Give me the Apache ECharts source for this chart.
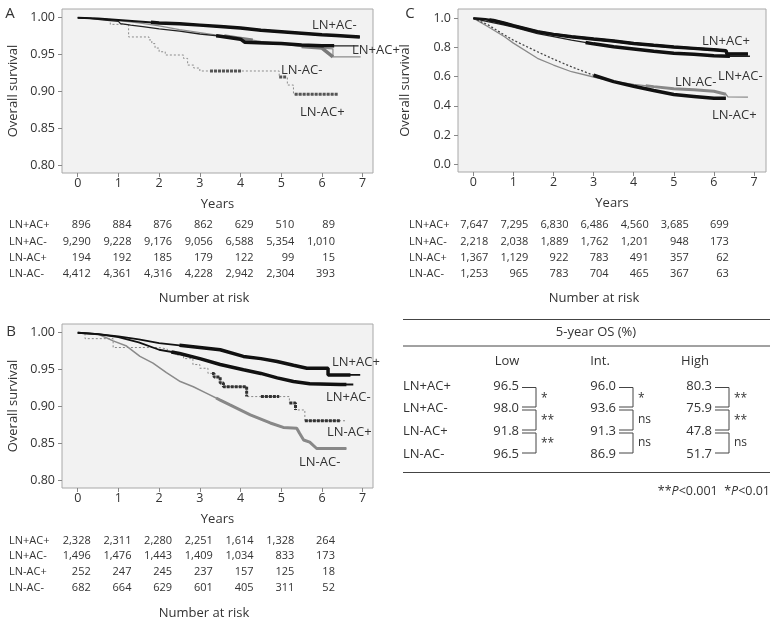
<!DOCTYPE html>
<html><head><meta charset="utf-8">
<script src="https://cdn.jsdelivr.net/npm/echarts@6/dist/echarts.min.js"></script>
<style>html,body{margin:0;padding:0;background:#fff}#c{width:778px;height:624px}</style>
</head><body><div id="c"></div>
<script>
// ---------------- DATA ----------------
const groups = ['LN+AC+', 'LN+AC-', 'LN-AC+', 'LN-AC-'];
const riskYears = [0, 1, 2, 3, 4, 5, 6];
const xTicks = [0, 1, 2, 3, 4, 5, 6, 7];
const yTicksAB = [0.80, 0.85, 0.90, 0.95, 1.00];
const yTicksC = [0.0, 0.2, 0.4, 0.6, 0.8, 1.0];

// Panel A curves [years, survival]
const aLNpACp = [[0,1],[0.3,0.999],[0.6,0.997],[1,0.995],[1.05,0.992],[1.3,0.99],[1.6,0.988],[2,0.985],[2.5,0.982],[3,0.978],[3.5,0.975],[4,0.971],[4.1,0.967],[4.6,0.966],[5,0.965],[5.5,0.963],[6,0.962],[6.3,0.962],[6.9,0.962]];
const aLNpACm = [[0,1],[0.5,0.999],[1,0.997],[1.5,0.995],[2,0.993],[2.5,0.992],[3,0.99],[3.5,0.988],[4,0.986],[4.5,0.983],[5,0.981],[5.5,0.979],[6,0.977],[6.35,0.976],[6.35,0.974],[6.93,0.974]];
const aLNmACp = [[0,1],[0.15,0.998],[0.8,0.991],[1.25,0.974],[1.75,0.97],[1.82,0.965],[1.9,0.959],[2.0,0.954],[2.15,0.9496],[2.6,0.945],[2.7,0.936],[2.85,0.932],[3.0,0.928],[4.95,0.92],[5.15,0.909],[5.3,0.8965],[6.4,0.8965]];
const aLNmACm = [[0,1],[0.5,0.998],[1,0.996],[1.5,0.993],[2,0.989],[2.5,0.984],[3,0.98],[3.5,0.976],[4,0.972],[4.5,0.968],[5,0.965],[5.5,0.961],[6,0.959],[6.27,0.958],[6.27,0.947],[6.95,0.947]];

// Panel B curves
const bLNpACp = [[0,1],[0.5,0.998],[1,0.995],[1.5,0.991],[2,0.986],[2.5,0.983],[3,0.98],[3.5,0.977],[4.07,0.968],[4.5,0.965],[4.9,0.961],[5.3,0.956],[5.63,0.952],[6.15,0.952],[6.15,0.943],[6.94,0.943]];
const bLNpACm = [[0,1],[0.5,0.998],[1,0.994],[1.5,0.987],[2,0.977],[2.5,0.972],[3,0.965],[3.5,0.957],[4.07,0.95],[4.5,0.945],[4.9,0.939],[5.3,0.934],[5.7,0.931],[6.45,0.93],[6.77,0.93]];
const bLNmACp = [[0,1],[0.18,0.992],[0.87,0.98],[2.0,0.978],[2.2,0.975],[2.4,0.97],[2.6,0.965],[2.83,0.957],[3.0,0.952],[3.2,0.945],[3.35,0.94],[3.5,0.932],[3.58,0.927],[4.15,0.9137],[5.2,0.905],[5.35,0.8956],[5.58,0.881],[6.6,0.881]];
const bLNmACm = [[0,1],[0.3,0.999],[0.55,0.997],[0.87,0.989],[1.2,0.982],[1.53,0.968],[1.85,0.959],[2.18,0.946],[2.52,0.934],[2.84,0.927],[3.17,0.918],[3.5,0.909],[3.74,0.9025],[4.24,0.889],[4.73,0.878],[5.05,0.872],[5.38,0.871],[5.45,0.864],[5.55,0.855],[5.7,0.852],[5.87,0.8435],[6.6,0.8435]];

// Panel C curves
const cLNpACp = [[0,1],[0.3,0.993],[0.5,0.985],[0.78,0.966],[1,0.95],[1.6,0.908],[2,0.89],[2.45,0.874],[3,0.858],[3.5,0.845],[4,0.828],[4.5,0.815],[5,0.803],[5.5,0.794],[6,0.784],[6.3,0.778],[6.33,0.755],[6.85,0.755]];
const cLNpACm = [[0,1],[0.3,0.98],[0.78,0.954],[1,0.94],[1.6,0.895],[2,0.875],[2.45,0.851],[3,0.825],[3.5,0.805],[4,0.79],[4.5,0.775],[5,0.761],[5.5,0.753],[6,0.743],[6.4,0.74],[6.9,0.74]];
const cLNmACp = [[0,1],[0.37,0.955],[0.78,0.885],[1,0.85],[1.6,0.771],[2,0.72],[2.45,0.668],[3,0.61],[3.5,0.566],[4,0.535],[4.5,0.505],[5,0.478],[5.5,0.465],[6,0.452],[6.3,0.452]];
const cLNmACm = [[0,1],[0.37,0.942],[0.78,0.874],[1,0.83],[1.6,0.726],[2,0.68],[2.45,0.634],[3,0.598],[3.5,0.568],[4,0.548],[4.5,0.532],[5,0.517],[5.5,0.51],[6,0.5],[6.3,0.48],[6.35,0.462],[6.85,0.46]];

// Number at risk
const riskA_LNpACp = [896, 884, 876, 862, 629, 510, 89];
const riskA_LNpACm = [9290, 9228, 9176, 9056, 6588, 5354, 1010];
const riskA_LNmACp = [194, 192, 185, 179, 122, 99, 15];
const riskA_LNmACm = [4412, 4361, 4316, 4228, 2942, 2304, 393];
const riskB_LNpACp = [2328, 2311, 2280, 2251, 1614, 1328, 264];
const riskB_LNpACm = [1496, 1476, 1443, 1409, 1034, 833, 173];
const riskB_LNmACp = [252, 247, 245, 237, 157, 125, 18];
const riskB_LNmACm = [682, 664, 629, 601, 405, 311, 52];
const riskC_LNpACp = [7647, 7295, 6830, 6486, 4560, 3685, 699];
const riskC_LNpACm = [2218, 2038, 1889, 1762, 1201, 948, 173];
const riskC_LNmACp = [1367, 1129, 922, 783, 491, 357, 62];
const riskC_LNmACm = [1253, 965, 783, 704, 465, 367, 63];

// 5-year OS table
const osColumns = ['Low', 'Int.', 'High'];
const osLow = ['96.5', '98.0', '91.8', '96.5'];
const osInt = ['96.0', '93.6', '91.3', '86.9'];
const osHigh = ['80.3', '75.9', '47.8', '51.7'];
const sigLow = ['*', '**', '**'];
const sigInt = ['*', 'ns', 'ns'];
const sigHigh = ['**', '**', 'ns'];

// ---------------- STYLE / LAYOUT ----------------
const FONT = '"Open Sans", "Noto Sans", sans-serif';
const TXT = '#333';

const panels = [
  { grid: { left: 62, top: 9, width: 311, height: 164 }, x: [-0.386, 7.254], y: [0.7901, 1.0118], yTicks: yTicksAB, dig: 2, gapY: 42,
    curves: [aLNmACm, aLNmACp, aLNpACp, aLNpACm],
    styles: [
      { color: '#8c8c8c', width: 1.2, dense: [[3.6, 4.3], [5.5, 6.27]], dw: 3.5, dc: '#7a7a7a' },
      { color: '#8c8c8c', width: 1, type: [2, 2], step: true, dense: [[3.25, 4.02], [4.95, 5.12], [5.33, 6.4]], dw: 3, dc: '#555', dtype: [3, 1] },
      { color: '#222', width: 1.3, dense: [[3.4, 6.3]], dw: 3.5, dc: '#111' },
      { color: '#111', width: 2, dense: [[1.8, 6.93]], dw: 3.5, dc: '#111' }
    ],
    risk: [riskA_LNpACp, riskA_LNpACm, riskA_LNmACp, riskA_LNmACm],
    riskLabelX: 9, riskRows: [225, 241.7, 258.3, 274], riskOff: 13, nar: [204, 298],
    letter: ['A', 10, 14],
    labels: [['LN+AC-', 312, 25], ['LN+AC+', 352, 50], ['LN-AC-', 281, 70], ['LN-AC+', 300, 112]] },
  { grid: { left: 62, top: 324, width: 311, height: 164 }, x: [-0.386, 7.254], y: [0.7901, 1.0118], yTicks: yTicksAB, dig: 2, gapY: 42,
    curves: [bLNmACm, bLNmACp, bLNpACm, bLNpACp],
    styles: [
      { color: '#8a8a8a', width: 1.5, dense: [[3.4, 6.6]], dw: 3, dc: '#888' },
      { color: '#888', width: 1, type: [2, 2], step: true, dense: [[3.3, 4.15], [4.5, 4.95], [5.2, 5.35], [5.58, 6.45]], dw: 3, dc: '#333', dtype: [3, 1] },
      { color: '#111', width: 1.8, dense: [[2.3, 6.6]], dw: 3.5, dc: '#111' },
      { color: '#111', width: 1.8, dense: [[2.5, 6.7]], dw: 3.5, dc: '#111' }
    ],
    risk: [riskB_LNpACp, riskB_LNpACm, riskB_LNmACp, riskB_LNmACm],
    riskLabelX: 9, riskRows: [540.7, 556.3, 572, 587.7], riskOff: 13, nar: [204, 613],
    letter: ['B', 11, 332],
    labels: [['LN+AC+', 332, 362], ['LN+AC-', 326, 397], ['LN-AC+', 327, 432], ['LN-AC-', 299, 462]] },
  { grid: { left: 458, top: 9, width: 308, height: 163 }, x: [-0.3815, 7.30], y: [-0.0527, 1.0637], yTicks: yTicksC, dig: 1, gapY: 46,
    curves: [cLNmACm, cLNmACp, cLNpACm, cLNpACp],
    styles: [
      { color: '#8a8a8a', width: 1.3, dense: [[4.3, 6.3]], dw: 3, dc: '#888' },
      { color: '#444', width: 1.3, type: [2, 2], dense: [[3, 6.3]], dw: 3.5, dc: '#111' },
      { color: '#222', width: 1.3, dense: [[2.8, 6.4]], dw: 3.5, dc: '#111' },
      { color: '#111', width: 2.5, dense: [[0.4, 6.85]], dw: 3.5, dc: '#111' }
    ],
    risk: [riskC_LNpACp, riskC_LNpACm, riskC_LNmACp, riskC_LNmACm],
    riskLabelX: 409, riskRows: [225, 241.7, 258.3, 274], riskOff: 15, nar: [594, 298],
    letter: ['C', 410, 14],
    labels: [['LN+AC+', 702, 41], ['LN+AC-', 718, 76], ['LN-AC-', 675, 82], ['LN-AC+', 712, 115]] }
];

// value of a curve at time t (step or linear) -- used only to clip overlay segments
function valAt(d, t, step) {
  for (let i = d.length - 1; i >= 0; i--) {
    if (d[i][0] <= t) {
      if (step || i === d.length - 1) return d[i][1];
      const a = d[i], b = d[i + 1];
      if (b[0] === a[0]) return b[1];
      return a[1] + (b[1] - a[1]) * (t - a[0]) / (b[0] - a[0]);
    }
  }
  return d[0][1];
}
function clip(d, t0, t1, step) {
  const out = [[t0, valAt(d, t0, step)]];
  d.forEach(p => { if (p[0] > t0 && p[0] < t1) out.push(p); });
  out.push([t1, valAt(d, t1, step)]);
  return out;
}

const grids = [], xAxes = [], yAxes = [], series = [];
panels.forEach((p, i) => {
  grids.push(Object.assign({ show: true, backgroundColor: '#f2f2f2', borderColor: '#a8a8a8', borderWidth: 1 }, p.grid));
  xAxes.push({
    type: 'value', gridIndex: i, min: p.x[0], max: p.x[1], position: 'bottom',
    axisLine: { show: false, onZero: false }, splitLine: { show: false },
    axisTick: { show: true, customValues: xTicks, length: 4, lineStyle: { color: '#888' } },
    axisLabel: { customValues: xTicks, margin: 4, fontSize: 12.5, color: TXT, fontFamily: FONT },
    name: 'Years', nameLocation: 'middle', nameGap: 25,
    nameTextStyle: { fontSize: 13, color: TXT, fontFamily: FONT }
  });
  yAxes.push({
    type: 'value', gridIndex: i, min: p.y[0], max: p.y[1], position: 'left',
    axisLine: { show: false, onZero: false }, splitLine: { show: false },
    axisTick: { show: true, customValues: p.yTicks, length: 4, lineStyle: { color: '#888' } },
    axisLabel: { customValues: p.yTicks, margin: 7, fontSize: 12.5, color: TXT, fontFamily: FONT,
      formatter: v => Number(v).toFixed(p.dig) },
    name: 'Overall survival', nameLocation: 'middle', nameGap: p.gapY,
    nameTextStyle: { fontSize: 13, color: TXT, fontFamily: FONT }
  });
  p.curves.forEach((d, k) => {
    const s = p.styles[k];
    series.push({
      type: 'line', xAxisIndex: i, yAxisIndex: i, data: d, step: s.step ? 'end' : false,
      showSymbol: false, silent: true, animation: false, z: 2 + k,
      lineStyle: { color: s.color, width: s.width, type: s.type || 'solid' }
    });
    (s.dense || []).forEach(r => {
      series.push({
        type: 'line', xAxisIndex: i, yAxisIndex: i, data: clip(d, r[0], r[1], s.step), step: s.step ? 'end' : false,
        showSymbol: false, silent: true, animation: false, z: 2 + k,
        lineStyle: { color: s.dc, width: s.dw, type: s.dtype || 'solid' }
      });
    });
  });
});

const chart = echarts.init(document.getElementById('c'), null, { width: 778, height: 624 });
chart.setOption({ animation: false, grid: grids, xAxis: xAxes, yAxis: yAxes, series: series });

// ---------------- TEXT / TABLES ----------------
const g = [];
function txt(text, x, y, opt) {
  opt = opt || {};
  g.push({ type: 'text', silent: true, z: 100, style: Object.assign({
    text: text, x: x, y: y, fill: TXT, fontFamily: FONT, fontSize: opt.size || 12,
    textAlign: opt.align || 'left', textVerticalAlign: 'middle' }, opt.extra || {}) });
}
function line(x1, y1, x2, y2, w) {
  g.push({ type: 'line', silent: true, z: 100, shape: { x1, y1, x2, y2 }, style: { stroke: '#444', lineWidth: w || 1 } });
}

panels.forEach((p, i) => {
  txt(p.letter[0], p.letter[1], p.letter[2], { size: 15, align: 'center' });
  p.labels.forEach(l => txt(l[0], l[1], l[2], { size: 13 }));
  groups.forEach((gName, r) => {
    const y = p.riskRows[r];
    txt(gName, p.riskLabelX, y, { size: 11 });
    p.risk[r].forEach((n, c) => {
      const x = chart.convertToPixel({ xAxisIndex: i }, riskYears[c]) + p.riskOff;
      txt(n.toLocaleString('en-US'), x, y, { size: 11 , align: 'right' });
    });
  });
  txt('Number at risk', p.nar[0], p.nar[1], { size: 13, align: 'center' });
});

// 5-year OS table
const tLeft = 403, tRight = 770;
line(tLeft, 319.5, tRight, 319.5);
line(tLeft, 346, tRight, 346);
line(tLeft, 472.5, tRight, 472.5);
txt('5-year OS (%)', 596, 332, { size: 13, align: 'center' });
const colEnds = [519, 616, 712];
const colHead = [507, 600, 695];
const rowY = [386, 408.5, 431.5, 454.5];
const colVals = [osLow, osInt, osHigh];
const colSig = [sigLow, sigInt, sigHigh];
osColumns.forEach((h, c) => txt(h, colHead[c], 361, { size: 13, align: 'center' }));
groups.forEach((gName, r) => txt(gName, tLeft, rowY[r], { size: 13 }));
colVals.forEach((vals, c) => {
  const xe = colEnds[c];
  vals.forEach((v, r) => txt(v, xe, rowY[r], { size: 13, align: 'right' }));
  colSig[c].forEach((s, k) => {
    const top = rowY[k] + 1.5, bot = rowY[k + 1] - 1.5;
    const x0 = xe + 3, xv = xe + 17;
    g.push({ type: 'polyline', silent: true, z: 100,
      shape: { points: [[x0, top], [xv, top], [xv, bot], [x0, bot]] },
      style: { stroke: '#444', lineWidth: 1, fill: null } });
    txt(s, xv + 5, (top + bot) / 2 + (s === 'ns' ? 0 : 1), { size: 12 });
  });
});
g.push({ type: 'text', silent: true, z: 100, style: {
  text: '**{i|P}<0.001  *{i|P}<0.01', x: tRight, y: 491, fill: TXT, fontFamily: FONT, fontSize: 12.5,
  textAlign: 'right', textVerticalAlign: 'middle',
  rich: { i: { fontStyle: 'italic', fontFamily: FONT, fontSize: 12.5, fill: TXT } } } });

chart.setOption({ graphic: { elements: g } });
</script></body></html>
